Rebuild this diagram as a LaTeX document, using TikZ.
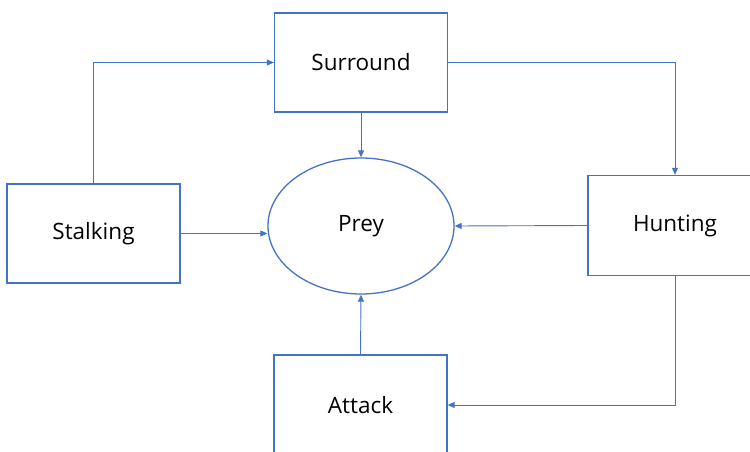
\documentclass[tikz,border=0pt]{standalone}
\usepackage{fontspec}
\setmainfont{Open Sans}
\usetikzlibrary{arrows.meta,positioning,shapes.geometric}
\definecolor{lineblue}{HTML}{4472C4}
\begin{document}
\begin{tikzpicture}[x=1pt,y=-1pt,>={Triangle[length=7pt,width=6pt]},
  box/.style={draw=lineblue,line width=1.3pt,minimum width=173pt,minimum height=99pt,inner sep=0pt,font=\fontsize{22.5}{26}\selectfont},
  link/.style={->,line width=0.9pt,color=lineblue}]
 \clip (0,0) rectangle (750,452);
 \node[box] (surr) at (361,62.5) {Surround};
 \node[box] (stalk) at (93.5,233.5) {Stalking};
 \node[box,minimum width=174pt,minimum height=100pt] (hunt) at (675,225.5) {Hunting};
 \node[box,minimum height=100pt] (att) at (360.5,405) {Attack};
 \node[ellipse,draw=lineblue,line width=1.3pt,minimum width=186pt,minimum height=136pt,inner sep=0pt,font=\fontsize{22.5}{26}\selectfont] (prey) at (361,226) {Prey};
 % outer loop round the boxes
 \draw[link] (stalk.north) |- (surr.west);
 \draw[link] (surr.east) -| (hunt.north);
 \draw[link] (hunt.south) |- (att.east);
 % everything points at the prey
 \draw[link] (surr.south) -- (prey.north);
 \draw[link] (stalk.east) -- (stalk.east -| prey.west);
 \draw[link] (hunt.west) -- (prey.east);
 \draw[link] (att.north) -- (prey.south);
\end{tikzpicture}
\end{document}
